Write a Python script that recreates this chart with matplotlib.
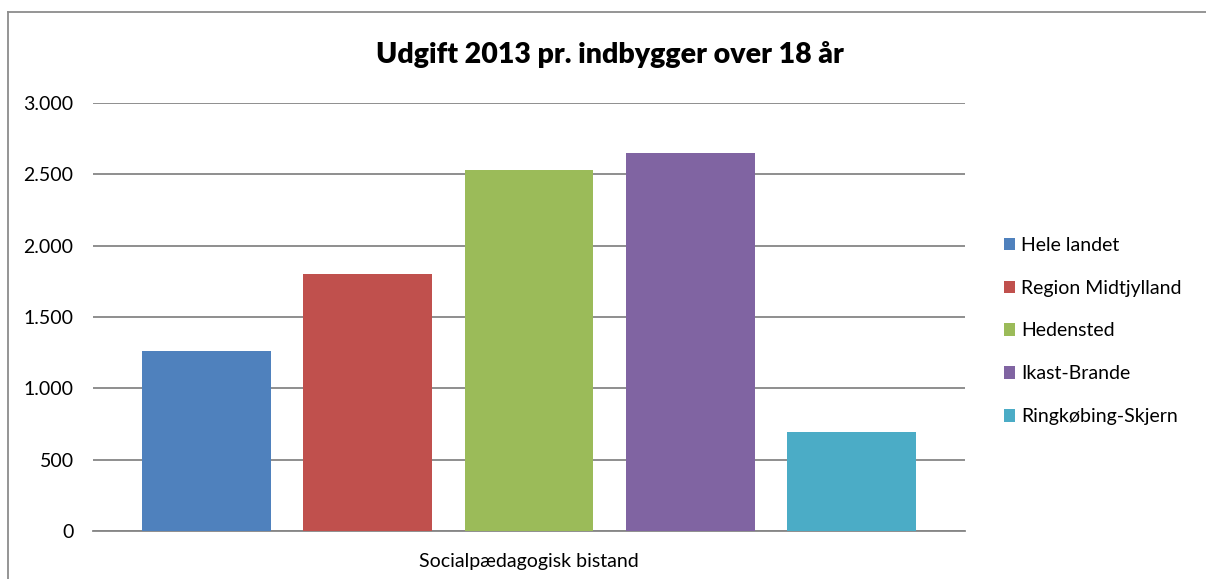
import matplotlib
matplotlib.use("Agg")
import matplotlib.pyplot as plt
import numpy as np
from matplotlib.lines import Line2D

plt.rcParams['font.family'] = ['Lato', 'DejaVu Sans']

title = "Udgift 2013 pr. indbygger over 18 år"
category = "Socialpædagogisk bistand"
series = ["Hele landet", "Region Midtjylland", "Hedensted", "Ikast-Brande", "Ringkøbing-Skjern"]
values = [1262, 1802, 2532, 2651, 694]
colors = ["#4F81BD", "#C0504D", "#9BBB59", "#8064A2", "#4BACC6"]
yticks = [0, 500, 1000, 1500, 2000, 2500, 3000]
ytick_labels = ["0", "500", "1.000", "1.500", "2.000", "2.500", "3.000"]

W, H = 1206, 579
fig = plt.figure(figsize=(W / 100, H / 100), dpi=100)
ax = fig.add_axes([93 / W, (H - 531) / H, (965 - 93) / W, (531 - 103) / H])

bar_w = 1.0
gap = 0.25
margin = 0.38
pos = np.arange(len(series)) * (bar_w + gap)
for p, v, c, s in zip(pos, values, colors, series):
    ax.bar(p, v, width=bar_w, color=c, label=s, zorder=3)

ax.set_xlim(pos[0] - bar_w / 2 - margin, pos[-1] + bar_w / 2 + margin)
ax.set_ylim(0, 3000)
ax.set_yticks(yticks)
ax.set_yticklabels(ytick_labels, fontsize=14)
ax.yaxis.grid(True, color="#868686", linewidth=1.3, zorder=0)
ax.set_axisbelow(True)
ax.tick_params(axis='y', length=0, pad=14)
ax.set_xticks([(pos[0] + pos[-1]) / 2])
ax.set_xticklabels([category], fontsize=14)
ax.tick_params(axis='x', length=0, pad=16)
for sp in ["top", "right", "left"]:
    ax.spines[sp].set_visible(False)
ax.spines["bottom"].set_color("#868686")
ax.spines["bottom"].set_linewidth(1.3)

fig.text(610 / W, 1 - 55 / H, title, ha="center", va="center", fontsize=20.5, fontweight="heavy")

leg = fig.legend(loc="center left", bbox_to_anchor=(994 / W, 1 - 331 / H), frameon=False,
                 fontsize=14, handlelength=0.6, handleheight=0.6, handletextpad=0.3,
                 labelspacing=1.33, borderpad=0)

# chart border (left and top)
fig.add_artist(Line2D([8 / W, 8 / W], [0, 1 - 12 / H], transform=fig.transFigure, color="#8c8c8c", linewidth=1.3))
fig.add_artist(Line2D([8 / W, 1], [1 - 12 / H, 1 - 12 / H], transform=fig.transFigure, color="#8c8c8c", linewidth=1.3))

fig.savefig("out.png", dpi=100, facecolor="white")
